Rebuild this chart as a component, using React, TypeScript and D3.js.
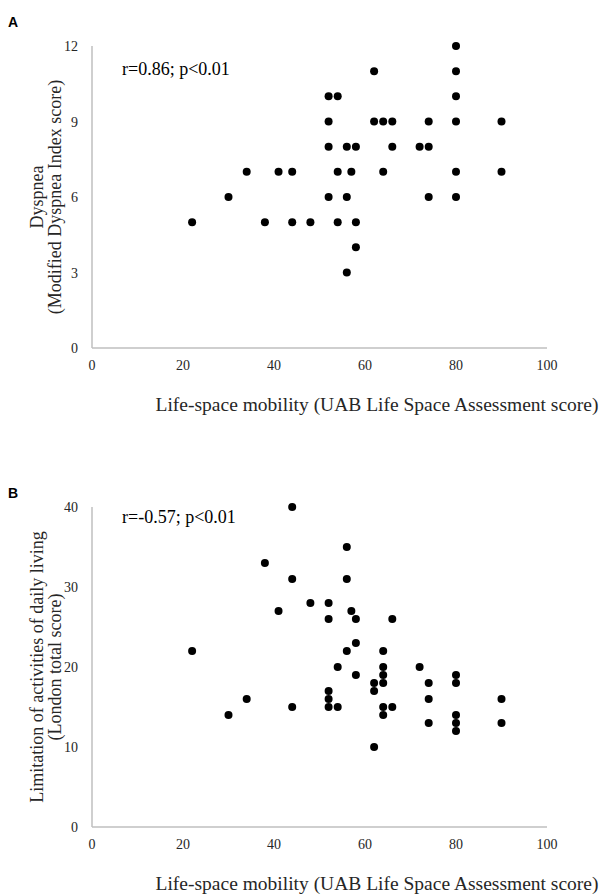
import React from 'react';
import * as d3 from 'd3';

// Panel A: life-space mobility vs dyspnea (Modified Dyspnea Index)
const mobilityA = [
  22, 30, 34, 38, 41, 44, 44, 48,
  52, 54, 80,
  62, 80, 80,
  52, 62, 64, 66, 74, 80, 90,
  52, 56, 58, 66, 72, 74,
  54, 57, 64, 80, 90,
  52, 56, 74, 80,
  54, 58,
  58,
  56,
];
const dyspnea = [
  5, 6, 7, 5, 7, 7, 5, 5,
  10, 10, 10,
  11, 11, 12,
  9, 9, 9, 9, 9, 9, 9,
  8, 8, 8, 8, 8, 8,
  7, 7, 7, 7, 7,
  6, 6, 6, 6,
  5, 5,
  4,
  3,
];

// Panel B: life-space mobility vs London ADL total score
const mobilityB = [
  44, 38, 44, 48, 52, 41, 52, 22, 54, 52, 52, 34, 44, 52, 54, 30,
  56, 56, 57, 58, 66, 58, 56, 64, 64, 72, 58, 64, 80, 62, 64, 74,
  80, 62, 74, 90, 64, 66, 64, 80, 74, 80, 90, 80, 62,
];
const london = [
  40, 33, 31, 28, 28, 27, 26, 22, 20, 17, 16, 16, 15, 15, 15, 14,
  35, 31, 27, 26, 26, 23, 22, 22, 20, 20, 19, 19, 19, 18, 18, 18,
  18, 17, 16, 16, 15, 15, 14, 14, 13, 13, 13, 12, 10,
];

const xTicks = [0, 20, 40, 60, 80, 100];
const yTicksA = [0, 3, 6, 9, 12];
const yTicksB = [0, 10, 20, 30, 40];

const serif = '"Liberation Serif", "Times New Roman", serif';
const sans = '"Liberation Sans", Arial, sans-serif';

type PanelProps = {
  letter: string;
  letterY: number;
  xs: number[];
  ys: number[];
  yMax: number;
  yTicks: number[];
  top: number;
  bottom: number;
  stat: string;
  statY: number;
  yTitle: string[];
};

const Panel = ({ letter, letterY, xs, ys, yMax, yTicks, top, bottom, stat, statY, yTitle }: PanelProps) => {
  const left = 92;
  const right = 547;
  const x = d3.scaleLinear().domain([0, 100]).range([left, right]);
  const y = d3.scaleLinear().domain([0, yMax]).range([bottom, top]);
  const midY = (top + bottom) / 2;

  return (
    <g>
      <text x={8} y={letterY} fontFamily={sans} fontWeight="bold" fontSize={14}>
        {letter}
      </text>

      {/* axes */}
      <line x1={left} x2={left} y1={top} y2={bottom} stroke="#bfbfbf" strokeWidth={1.5} />
      <line x1={left} x2={right} y1={bottom} y2={bottom} stroke="#bfbfbf" strokeWidth={1.5} />

      {yTicks.map((t) => (
        <text key={'y' + t} x={78} y={y(t) + 5} textAnchor="end" fontFamily={serif} fontSize={14} fill="#262626">
          {t}
        </text>
      ))}
      {xTicks.map((t) => (
        <text key={'x' + t} x={x(t)} y={bottom + 22} textAnchor="middle" fontFamily={serif} fontSize={14} fill="#262626">
          {t}
        </text>
      ))}

      {/* axis titles */}
      <text x={377} y={bottom + 63} textAnchor="middle" fontFamily={serif} fontSize={19.5} fill="#262626">
        Life-space mobility (UAB Life Space Assessment score)
      </text>
      {yTitle.map((line, i) => (
        <text
          key={line}
          transform={`translate(${43 + i * 18},${midY}) rotate(-90)`}
          textAnchor="middle"
          fontFamily={serif}
          fontSize={18}
          fill="#262626"
        >
          {line}
        </text>
      ))}

      <text x={122} y={statY} fontFamily={serif} fontSize={18} fill="#000">
        {stat}
      </text>

      {xs.map((v, i) => (
        <circle key={i} cx={x(v)} cy={y(ys[i])} r={4} fill="#000" />
      ))}
    </g>
  );
};

export default function App() {
  return (
    <svg
      width={610}
      height={895}
      style={{ position: 'absolute', left: 0, top: 0, background: '#fff' }}
    >
      <Panel
        letter="A"
        letterY={27}
        xs={mobilityA}
        ys={dyspnea}
        yMax={12}
        yTicks={yTicksA}
        top={46}
        bottom={348}
        stat="r=0.86; p<0.01"
        statY={75}
        yTitle={['Dyspnea', '(Modified Dyspnea Index score)']}
      />
      <Panel
        letter="B"
        letterY={498}
        xs={mobilityB}
        ys={london}
        yMax={40}
        yTicks={yTicksB}
        top={507}
        bottom={827}
        stat="r=-0.57; p<0.01"
        statY={523}
        yTitle={['Limitation of activities of daily living', '(London total score)']}
      />
    </svg>
  );
}
